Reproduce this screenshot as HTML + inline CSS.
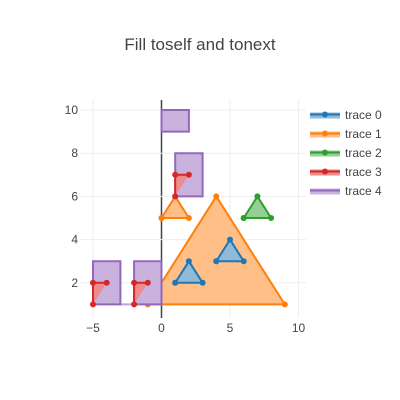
<!DOCTYPE html>
<html><head><meta charset="utf-8"><style>
body{margin:0;background:#fff;}
svg{display:block;font-family:"Liberation Sans",sans-serif;}
</style></head><body>
<svg id="chart" width="400" height="400" viewBox="0 0 400 400">
<rect width="400" height="400" fill="#fff"/>
<text x="200" y="50" text-anchor="middle" font-size="17" fill="#444">Fill toself and tonext</text>
<g id="grid"></g><g id="marks"></g><g id="legend"></g>
</svg>
<script>
const xTicks=[-5,0,5,10];
const yTicks=[2,4,6,8,10];
const names=["trace 0","trace 1","trace 2","trace 3","trace 4"];
const colors=["#1f77b4","#ff7f0e","#2ca02c","#d62728","#9467bd"];
const fills=["#8fbbd9","#ffbf86","#95cf95","#ec8c8e","#c9b3de"];
const trace0=[[[1,2],[2,3],[3,2],[1,2]],[[4,3],[5,4],[6,3],[4,3]]];
const trace1=[[[-1,1],[4,6],[9,1],[-1,1]],[[0,5],[1,6],[2,5],[0,5]]];
const trace2=[[[6,5],[7,6],[8,5],[6,5]]];
const trace3=[[[1,6],[1,7],[2,7]],[[-2,1],[-2,2],[-1,2]],[[-5,1],[-5,2],[-4,2]]];
const trace4=[[[0,9],[0,10],[2,10],[2,9],[0,9]],[[1,6],[1,8],[3,8],[3,6],[1,6]],[[-2,1],[-2,3],[0,3],[0,1],[-2,1]],[[-5,1],[-5,3],[-3,3],[-3,1],[-5,1]]];
const traces=[trace0,trace1,trace2,trace3,trace4];
const markers=[true,true,true,true,false];
const drawOrder=[1,4,0,2,3];
const X=v=>161.5+v*13.7, Y=v=>110+(10-v)*21.6;
const L=80,R=306,T=100,B=318;
const NS="http://www.w3.org/2000/svg";
function mk(t,a,p){const e=document.createElementNS(NS,t);for(const k in a)e.setAttribute(k,a[k]);p.appendChild(e);return e;}
const grid=document.getElementById('grid'),marks=document.getElementById('marks'),leg=document.getElementById('legend');
xTicks.forEach(t=>{const l=mk('line',{x1:X(t),x2:X(t),y1:T,y2:B,stroke:t===0?'#444':'#eee','stroke-width':t===0?1.5:1},grid);

const tx=mk('text',{x:X(t),y:B+14,'text-anchor':'middle','font-size':12,fill:'#444'},grid);tx.textContent=t<0?'\u2212'+(-t):t;
});
yTicks.forEach(t=>{const l=mk('line',{x1:L,x2:R,y1:Y(t),y2:Y(t),stroke:'#eee','stroke-width':1},grid);

const tx=mk('text',{x:L-2,y:Y(t)+4,'text-anchor':'end','font-size':12,fill:'#444'},grid);tx.textContent=t;
});
drawOrder.forEach(i=>{const tr=traces[i];tr.forEach(seg=>{const pts=seg.map(p=>X(p[0])+','+Y(p[1])).join(' ');
const pg=mk('polygon',{points:pts,fill:fills[i],stroke:'none'},marks);

const pl=mk('polyline',{points:pts,fill:'none',stroke:colors[i],'stroke-width':2},marks);

if(markers[i])seg.forEach(p=>{const c=mk('circle',{cx:X(p[0]),cy:Y(p[1]),r:3,fill:colors[i]},marks);
});});
if(i===4){const cn=mk('line',{x1:X(-3),y1:Y(1),x2:X(-2),y2:Y(1),stroke:colors[4],'stroke-width':2,'stroke-opacity':0.6},marks);
}});
names.forEach((n,i)=>{const y=114.5+i*19;const g=mk('g',{},leg);

mk('rect',{x:310,y:y-2,width:30,height:6,fill:fills[i]},g);
mk('line',{x1:310,x2:340,y1:y,y2:y,stroke:colors[i],'stroke-width':2},g);
if(markers[i])mk('circle',{cx:325,cy:y,r:3,fill:colors[i]},g);
const t=mk('text',{x:345,y:y+4.5,'font-size':12,fill:'#444'},g);t.textContent=n;});
</script>
</body></html>
